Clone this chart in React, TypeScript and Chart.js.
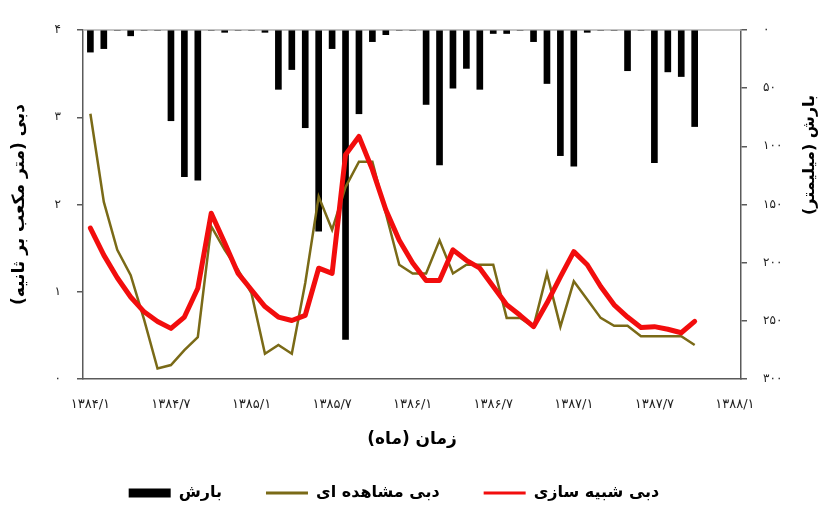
import React, { useEffect, useRef } from 'react';
import { Chart, registerables } from 'chart.js';

Chart.register(...registerables);

// ---- Data ----
const xTickLabels = ['۱۳۸۴/۱', '۱۳۸۴/۷', '۱۳۸۵/۱', '۱۳۸۵/۷', '۱۳۸۶/۱', '۱۳۸۶/۷', '۱۳۸۷/۱', '۱۳۸۷/۷', '۱۳۸۸/۱'];
const leftTickLabels = ['۰', '۱', '۲', '۳', '۴'];
const rightTickLabels = ['۰', '۵۰', '۱۰۰', '۱۵۰', '۲۰۰', '۲۵۰', '۳۰۰'];

// observed discharge (m3/s), monthly from 1384/1
const observed = [
  3.04, 2.03, 1.48, 1.19, 0.68, 0.12, 0.16, 0.33, 0.48, 1.75,
  1.48, 1.25, 0.98, 0.29, 0.39, 0.29, 1.10, 2.09, 1.71, 2.20,
  2.49, 2.49, 1.90, 1.31, 1.21, 1.21, 1.59, 1.21, 1.31, 1.31,
  1.31, 0.70, 0.70, 0.60, 1.21, 0.60, 1.12, 0.91, 0.70, 0.61,
  0.61, 0.49, 0.49, 0.49, 0.49, 0.39,
];

// simulated discharge (m3/s)
const simulated = [
  1.73, 1.42, 1.16, 0.94, 0.77, 0.66, 0.58, 0.71, 1.04, 1.90,
  1.56, 1.21, 1.02, 0.83, 0.71, 0.67, 0.73, 1.27, 1.21, 2.57,
  2.78, 2.40, 1.94, 1.59, 1.33, 1.13, 1.13, 1.48, 1.36, 1.27,
  1.06, 0.85, 0.73, 0.60, 0.87, 1.17, 1.46, 1.31, 1.06, 0.85,
  0.71, 0.59, 0.60, 0.57, 0.53, 0.66,
];

// precipitation (mm)
const precipitation = [
  19, 16, 0, 5, 0, 0, 78, 126, 129, 0,
  2, 0, 0, 2, 51, 34, 84, 173, 16, 266,
  72, 10, 4, 0, 0, 64, 116, 50, 33, 51,
  3, 3, 0, 10, 46, 108, 117, 2, 0, 0,
  35, 0, 114, 36, 40, 83,
];

const seriesNames = ['بارش', 'دبی مشاهده ای', 'دبی شبیه سازی'];
const xTitle = 'زمان (ماه)';
const leftTitle = 'دبی (متر مکعب بر ثانیه)';
const rightTitle = 'بارش (میلیمتر)';

// ---- Layout ----
const W = 830;
const H = 507;
const PLOT_LEFT = 83;
const PLOT_RIGHT = 741;
const PLOT_TOP = 30;
const PLOT_BOTTOM = 379;
const RIGHT_PAD = 42;
const LEGEND_PAD = 44;
const LEGEND_H = LEGEND_PAD + 22;
const FONT = '"DejaVu Sans", sans-serif';
const AXIS_COLOR = '#5a5a5a';

const toXY = (arr: number[]) => arr.map((v, i) => ({ x: i, y: v }));

const decorPlugin = {
  id: 'decor',
  beforeDatasetsDraw(chart: any) {
    const { ctx, chartArea } = chart;
    ctx.save();
    ctx.strokeStyle = '#b0b0b0';
    ctx.lineWidth = 1.5;
    ctx.beginPath();
    ctx.moveTo(chartArea.left, chartArea.top);
    ctx.lineTo(chartArea.right, chartArea.top);
    ctx.stroke();
    ctx.restore();
  },
  afterDraw(chart: any) {
    const { ctx, chartArea } = chart;
    ctx.save();
    ctx.translate(chartArea.right + 69, chartArea.top + 125);
    ctx.rotate(-Math.PI / 2);
    ctx.font = `bold 16px ${FONT}`;
    ctx.fillStyle = '#000';
    ctx.textAlign = 'center';
    ctx.textBaseline = 'middle';
    ctx.fillText(rightTitle, 0, 0);
    ctx.restore();
  },
};

export default function App() {
  const ref = useRef<HTMLCanvasElement | null>(null);

  useEffect(() => {
    if (!ref.current) return;
    const chart = new Chart(ref.current, {
      type: 'line',
      data: {
        datasets: [
          {
            type: 'bar',
            label: seriesNames[0],
            data: toXY(precipitation),
            yAxisID: 'y2',
            xAxisID: 'x',
            backgroundColor: '#000',
            borderWidth: 0,
            barThickness: 6,
            grouped: false,
            order: 3,
          } as any,
          {
            type: 'line',
            label: seriesNames[1],
            data: toXY(observed),
            yAxisID: 'y',
            xAxisID: 'x',
            borderColor: '#7a6a17',
            backgroundColor: '#7a6a17',
            borderWidth: 2.5,
            pointRadius: 0,
            tension: 0,
            order: 2,
          },
          {
            type: 'line',
            label: seriesNames[2],
            data: toXY(simulated),
            yAxisID: 'y',
            xAxisID: 'x',
            borderColor: '#f20d0d',
            backgroundColor: '#f20d0d',
            borderWidth: 5,
            borderJoinStyle: 'round',
            borderCapStyle: 'round',
            pointRadius: 0,
            tension: 0,
            order: 1,
          },
        ],
      },
      options: {
        animation: false,
        responsive: false,
        events: [],
        layout: { padding: { top: PLOT_TOP, left: 0, right: RIGHT_PAD, bottom: 0 } },
        scales: {
          x: {
            type: 'linear',
            position: 'bottom',
            min: -0.55,
            max: 48.45,
            offset: false,
            afterBuildTicks: (s: any) => {
              s.ticks = xTickLabels.map((_, k) => ({ value: k * 6 }));
            },
            afterFit: (s: any) => {
              s.height = H - PLOT_BOTTOM - LEGEND_H;
            },
            ticks: {
              autoSkip: false,
              maxRotation: 0,
              padding: 18,
              color: '#222',
              font: { family: FONT, size: 13 },
              callback: (v: any) => xTickLabels[Math.round(Number(v) / 6)] ?? '',
            },
            grid: { display: false, drawTicks: false },
            border: { display: true, color: AXIS_COLOR, width: 1.5 },
            title: {
              display: true,
              text: xTitle,
              color: '#000',
              font: { family: FONT, size: 17, weight: 'bold' },
              padding: { top: 0, bottom: -9 },
            },
          },
          y: {
            type: 'linear',
            position: 'left',
            min: 0,
            max: 4,
            afterFit: (s: any) => {
              s.width = PLOT_LEFT;
            },
            ticks: {
              stepSize: 1,
              padding: 16,
              color: '#222',
              font: { family: FONT, size: 12 },
              callback: (v: any) => leftTickLabels[Math.round(Number(v))] ?? '',
            },
            grid: {
              display: true,
              drawOnChartArea: false,
              drawTicks: true,
              tickLength: 6,
              color: AXIS_COLOR,
              lineWidth: 1.5,
            },
            border: { display: true, color: AXIS_COLOR, width: 1.5 },
            title: {
              display: true,
              text: leftTitle,
              color: '#000',
              font: { family: FONT, size: 17, weight: 'bold' },
              padding: { top: 9, bottom: 0 },
            },
          },
          y2: {
            type: 'linear',
            position: 'right',
            reverse: true,
            min: 0,
            max: 300,
            afterFit: (s: any) => {
              s.width = W - PLOT_RIGHT - RIGHT_PAD;
            },
            ticks: {
              stepSize: 50,
              padding: 16,
              color: '#222',
              font: { family: FONT, size: 12 },
              callback: (v: any) => rightTickLabels[Math.round(Number(v) / 50)] ?? '',
            },
            grid: {
              display: true,
              drawOnChartArea: false,
              drawTicks: true,
              tickLength: 6,
              color: AXIS_COLOR,
              lineWidth: 1.5,
            },
            border: { display: true, color: AXIS_COLOR, width: 1.5 },
          },
        },
        plugins: {
          tooltip: { enabled: false },
          legend: {
            display: true,
            position: 'bottom',
            reverse: true,
            maxHeight: LEGEND_H,
            labels: {
              usePointStyle: true,
              pointStyleWidth: 42,
              boxHeight: 9,
              padding: LEGEND_PAD,
              color: '#000',
              font: { family: FONT, size: 16, weight: 'bold' },
              generateLabels: (ch: any) => {
                const items = Chart.defaults.plugins.legend.labels.generateLabels(ch);
                items.forEach((it: any) => {
                  const ds: any = ch.data.datasets[it.datasetIndex];
                  if (ds.type === 'bar') {
                    it.pointStyle = 'rect';
                    it.lineWidth = 0;
                    it.fillStyle = ds.backgroundColor;
                    it.strokeStyle = ds.backgroundColor;
                  } else {
                    it.pointStyle = 'line';
                    it.lineWidth = 3;
                    it.strokeStyle = ds.borderColor;
                    it.fillStyle = ds.borderColor;
                  }
                });
                return items;
              },
            },
          },
        },
      } as any,
      plugins: [decorPlugin],
    });
    return () => chart.destroy();
  }, []);

  return (
    <div style={{ position: 'fixed', left: 0, top: 0, width: W, height: H, background: '#fff' }}>
      <canvas ref={ref} width={W} height={H} dir="rtl" style={{ display: 'block', width: W, height: H }} />
    </div>
  );
}
